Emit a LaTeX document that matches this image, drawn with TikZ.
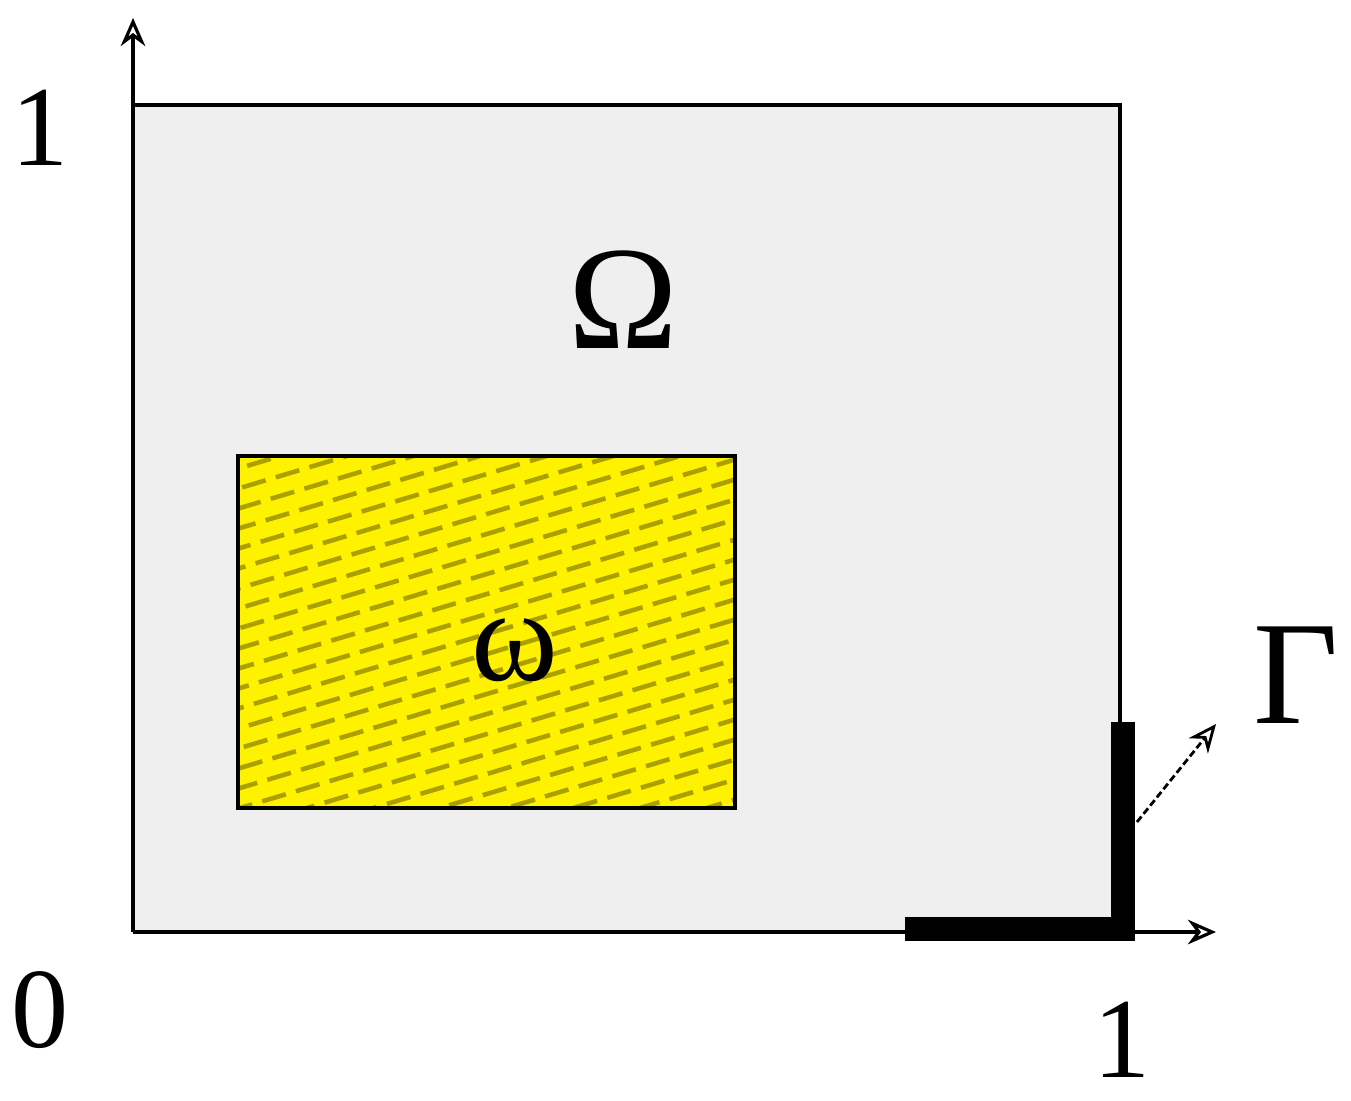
\documentclass[tikz,border=0pt]{standalone}
\usepackage{fontspec}
\setmainfont{Liberation Serif}
\usetikzlibrary{arrows.meta}
\definecolor{bggray}{RGB}{239,239,239}
\definecolor{hatch}{RGB}{170,160,0}
\begin{document}
\begin{tikzpicture}[x=0.02cm,y=-0.02cm,
  border/.style={line width=2.6pt,draw=black},
  axarrow/.style={line width=1.8pt,-{Stealth[length=16pt,width=14pt,open,line width=1.8pt]}},
  lbl/.style={font=\fontsize{65}{70}\selectfont,inner sep=0pt},
  biglbl/.style={font=\fontsize{84}{90}\selectfont,inner sep=0pt}]
\useasboundingbox (0,0) rectangle (1351,1100);
% outer domain
\coordinate (O) at (133,932);
\coordinate (TL) at (133,105);
\coordinate (TR) at (1120,105);
\coordinate (BR) at (1120,932);
\fill[bggray] (O) rectangle (TR);
% inner yellow region
\coordinate (wA) at (238,808);
\coordinate (wB) at (735,456);
\fill[yellow] (wA) rectangle (wB);
\begin{scope}
\clip (wA) rectangle (wB);
\foreach \k in {-20,...,60}{
  \draw[hatch,line width=2.6pt,dash pattern=on 14pt off 6pt,dash phase=\k*3pt] (200,{400+\k*20}) -- (800,{400+\k*20-180});
}
\end{scope}
\draw[border] (wA) rectangle (wB);
\draw[border] (O) -- (TL) -- (TR) -- (BR) -- (O);
% thick boundary Gamma
\fill[black] (905,917) rectangle (1135,941);
\fill[black] (1111,722) rectangle (1135,941);
% axes
\coordinate (Ytip) at (133,18);
\coordinate (Xstart) at (1135,932);
\coordinate (Xtip) at (1216,932);
\draw[axarrow] (TL) -- (Ytip);
\draw[axarrow] (Xstart) -- (Xtip);
% Gamma arrow
\coordinate (Gs) at (1137,822);
\coordinate (Ge) at (1216,724);
\draw[line width=1.6pt,dash pattern=on 4pt off 2pt,-{Stealth[length=16pt,width=14pt,open,line width=1.6pt]}] (Gs) -- (Ge);
% labels
\node[lbl] (one) at (40,128) {1};
\node[lbl] (zero) at (40,1010) {0};
\node[lbl] (oneb) at (1122,1040) {1};
\node[biglbl] (Gam) at (1296,675) {Γ};
\node[biglbl] (Om) at (623,300) {Ω};
\node[font=\fontsize{75}{80}\selectfont,inner sep=0pt] (om) at (515,650) {ω};
\end{tikzpicture}
\end{document}
